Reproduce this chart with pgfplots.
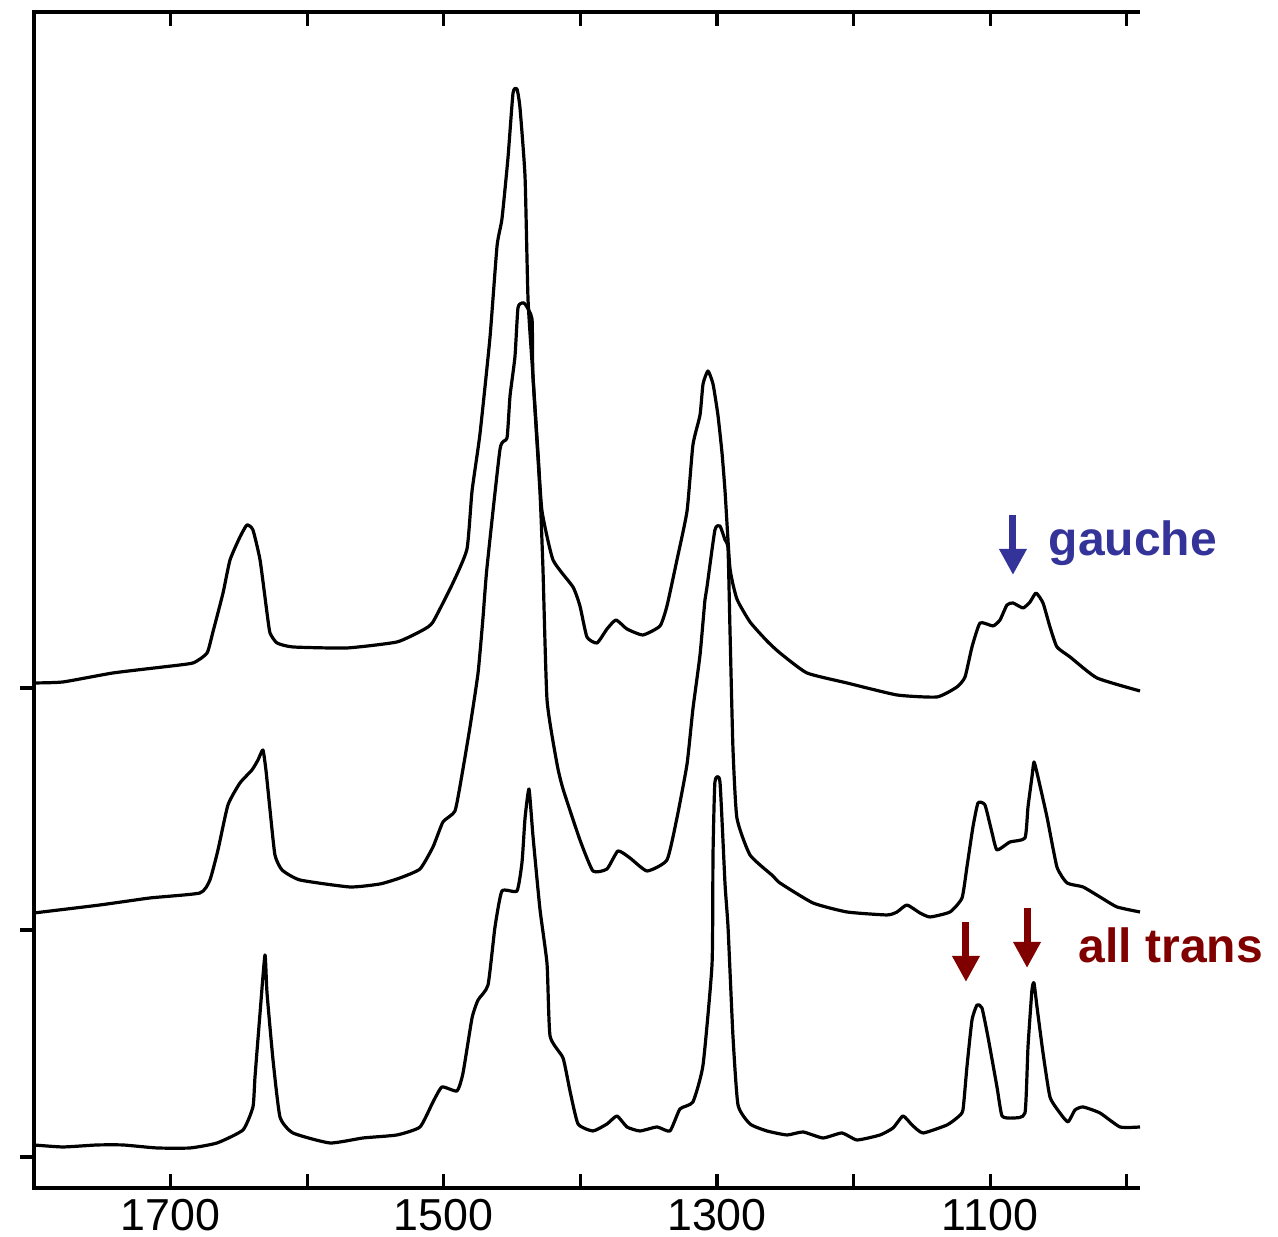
\documentclass[border=0pt]{standalone}
\usepackage{pgfplots}
\usepackage{pgfplotstable}
\pgfplotsset{compat=1.18}
\usepackage{fontspec}
\setmainfont{Liberation Sans}
\usetikzlibrary{arrows.meta}
\definecolor{gblue}{RGB}{51,51,153}
\definecolor{tred}{RGB}{128,0,0}

\pgfplotstableread{
w y
1800 505
1778.8 506
1742.2 515
1705.6 521
1683.6 525
1673.3 535
1669.0 556
1661.6 595
1656.5 628
1649.2 651
1644.1 663
1639.7 658
1634.5 628
1629.4 575
1627.2 555
1622.1 545
1610.4 541
1570.9 540
1534.3 546
1515.2 558
1507.9 566
1493.3 605
1483.0 639
1479.3 697
1473.5 754
1466.2 850
1461.0 942
1457.4 969
1453.0 1030
1449.3 1095
1446.4 1099
1444.2 1080
1440.5 1011
1438.3 888
1434.7 812
1431.0 735
1428.1 677
1420.0 628
1405.4 601
1400.3 582
1395.2 551
1387.8 545
1380.5 559
1373.9 568
1365.9 559
1354.2 553
1341.7 562
1336.6 582
1329.3 628
1321.9 677
1317.6 743
1312.4 773
1310.2 804
1306.6 817
1302.9 804
1299.3 773
1296.3 735
1294.1 697
1290.5 620
1285.4 589
1275.8 566
1263.4 547
1253.9 535
1234.1 515
1204.8 505
1168.2 493
1138.9 491
1124.3 501
1118.4 511
1113.3 541
1107.4 565
1097.9 562
1092.8 568
1087.7 583
1083.3 585
1075.9 580
1070.8 586
1066.4 595
1061.3 585
1056.2 561
1051.1 541
1041.5 531
1021.8 510
990.3 497
}\toptrace

\pgfplotstableread{
w y
1800 275
1751.7 283
1715.1 290
1678.5 295
1671.2 308
1665.3 338
1658.0 383
1649.2 405
1640.4 418
1636.0 428
1632.4 438
1630.2 418
1627.2 378
1623.6 333
1618.4 318
1605.3 308
1568.7 301
1546.7 304
1532.1 310
1517.4 319
1507.9 341
1500.6 366
1491.8 377
1486.7 413
1480.8 461
1474.9 515
1471.3 570
1468.4 620
1458.8 739
1453.7 750
1451.5 792
1447.9 831
1445.7 880
1442.7 885
1440.5 884
1435.4 869
1434.7 812
1429.6 697
1427.4 620
1424.4 488
1417.1 424
1412.7 399
1400.3 348
1390.8 317
1380.5 319
1372.5 337
1363.7 330
1351.2 317
1336.6 328
1329.3 370
1321.9 424
1317.6 479
1312.4 533
1308.8 588
1307.3 601
1301.5 658
1297.8 662
1294.1 648
1291.9 639
1290.5 560
1288.3 440
1285.4 370
1275.8 333
1259.0 312
1253.9 305
1229.7 285
1204.8 276
1175.5 273
1168.2 276
1160.9 283
1151.4 275
1144.0 271
1129.4 276
1120.6 290
1117.0 321
1112.6 361
1108.9 385
1103.8 383
1098.6 355
1095.0 338
1085.5 346
1074.5 350
1072.3 381
1069.4 411
1067.9 426
1065.0 411
1058.4 371
1051.1 321
1043.7 305
1032.0 301
1019.6 291
1007.1 281
990.3 276
}\midtrace

\pgfplotstableread{
w y
1800 43
1778.8 41
1753.9 43
1734.8 43
1710.0 40
1685.8 40
1666.0 45
1647.0 58
1639.7 81
1638.2 111
1634.5 175
1630.9 233
1629.4 195
1625.0 128
1619.9 71
1610.4 55
1583.3 45
1559.1 50
1534.3 53
1517.4 61
1507.9 86
1501.3 101
1490.3 97
1485.9 115
1479.3 170
1474.9 188
1467.6 203
1462.5 261
1457.4 297
1446.4 297
1442.7 326
1440.5 370
1437.6 399
1434.7 352
1429.6 279
1424.4 224
1422.2 152
1412.7 130
1407.6 97
1401.7 64
1390.8 57
1380.5 64
1373.2 72
1365.9 61
1356.4 57
1343.9 61
1334.4 57
1327.1 79
1317.6 86
1310.2 123
1303.6 224
1302.9 333
1301.5 406
1297.8 406
1294.1 304
1291.9 261
1288.3 152
1284.6 83
1275.8 64
1263.4 57
1248.7 53
1237.0 56
1222.4 50
1208.5 55
1197.5 48
1180.6 53
1171.1 60
1163.8 72
1157.2 63
1149.2 55
1131.6 63
1123.5 71
1119.9 78
1117.0 121
1113.3 168
1109.6 183
1106.0 180
1101.6 151
1095.0 101
1091.3 72
1083.3 70
1074.5 75
1072.3 141
1069.4 198
1067.9 205
1065.7 181
1061.3 135
1056.2 91
1048.9 75
1043.0 66
1037.9 78
1032.0 81
1019.6 75
1004.9 61
990.3 61
}\bottrace

\begin{document}
\begin{tikzpicture}
\begin{axis}[
  at={(0,0)}, anchor=south west,
  scale only axis, width=276.5pt, height=294pt,
  x dir=reverse, xmin=990.3, xmax=1800, ymin=0, ymax=1176,
  axis line style={draw=none},
  xtick={1700,1500,1300,1100}, xticklabels={1700,1500,1300,1100},
  minor xtick={1800,1600,1400,1200,1000},
  xtick pos=both, xticklabel pos=lower,
  xtick align=inside,
  ytick={31,258,500}, yticklabels={}, ytick pos=left, ytick align=outside,
  major tick length=3.5pt, minor tick length=3.5pt,
  tick style={black, line width=0.8pt},
  xticklabel style={font=\fontsize{11.2}{13}\selectfont, anchor=north, inner sep=0pt, yshift=-2.6pt},
  clip=false,
]
\draw[black, line width=0.8pt] (rel axis cs:1,1) -- (rel axis cs:0,1) -- (rel axis cs:0,0) -- (rel axis cs:1,0);
\addplot[black, line width=0.8pt, line join=round, smooth, tension=0.3] table[x=w,y=y] {\toptrace};
\addplot[black, line width=0.8pt, line join=round, smooth, tension=0.3] table[x=w,y=y] {\midtrace};
\addplot[black, line width=0.8pt, line join=round, smooth, tension=0.3] table[x=w,y=y] {\bottrace};
\draw[gblue, line width=1.75pt, -{Triangle[width=6.5pt,length=6.5pt]}] (axis cs:1083.3,673) -- (axis cs:1083.3,613);
\draw[tred, line width=1.75pt, -{Triangle[width=6.5pt,length=6.5pt]}] (axis cs:1117.7,266) -- (axis cs:1117.7,206);
\draw[tred, line width=1.75pt, -{Triangle[width=6.5pt,length=6.5pt]}] (axis cs:1073.0,280) -- (axis cs:1073.0,220);
\node[anchor=base west, inner sep=0pt, text=gblue, font=\fontsize{12}{14}\selectfont\bfseries] at (axis cs:1057.7,632) {gauche};
\node[anchor=base west, inner sep=0pt, text=tred, font=\fontsize{12}{14}\selectfont\bfseries] at (axis cs:1035.7,225) {all trans};
\end{axis}
\pgfresetboundingbox
\path[use as bounding box] (-8.5pt,-12.25pt) rectangle (311pt,297pt);
\end{tikzpicture}
\end{document}
